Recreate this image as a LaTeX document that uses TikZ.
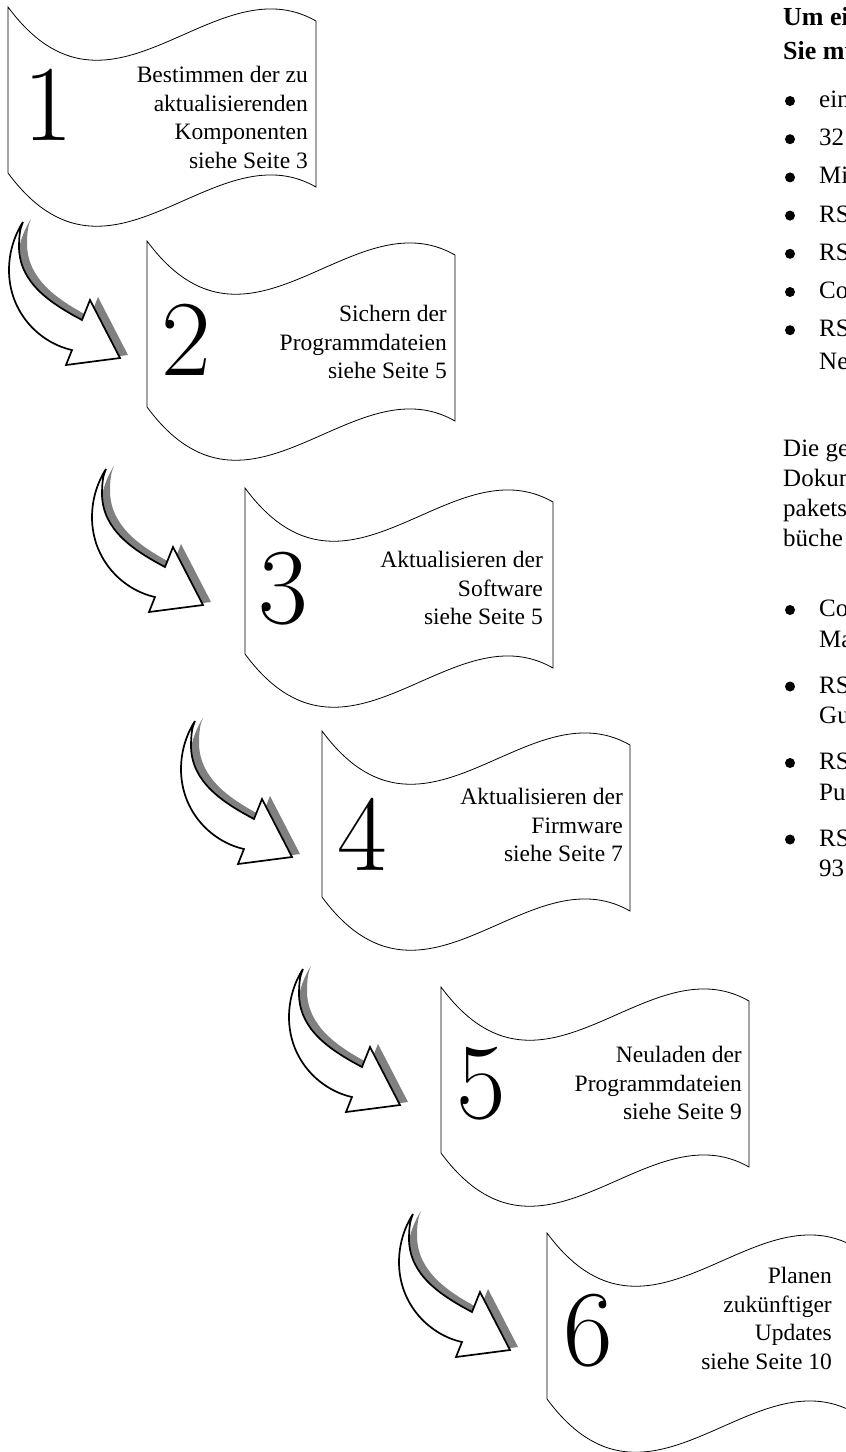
\documentclass[tikz,border=0pt]{standalone}
\usepackage{fontspec}
\newfontfamily\timesf{Liberation Serif}
\tikzset{
  bannerline/.style={draw=black, line width=0.8pt, fill=white},
  bignum/.style={font=\fontsize{108}{110}\selectfont, inner sep=0pt},
  bantext/.style={font=\timesf\fontsize{23.5}{28.7}\selectfont, align=right, inner sep=0pt, anchor=north east},
  coltext/.style={font=\timesf\fontsize{25}{30}\selectfont, inner sep=0pt, anchor=base west},
  colhead/.style={font=\timesf\bfseries\fontsize{26}{30}\selectfont, inner sep=0pt, anchor=base west},
  dot/.style={circle, fill=black, inner sep=0pt, minimum size=10pt},
  banner/.pic={
    \path[bannerline] (0,0) .. controls (103,139) and (205,-45) .. (308,14)
      -- (308,180) .. controls (205,121) and (103,305) .. (0,166) -- cycle;
  },
  bigarrow/.pic={
    \fill[black!50] [shift={(8,-3)}]
      (-97,-136) .. controls (-106,-122) and (-111,-105) .. (-111,-88)
      .. controls (-111,-45) and (-80,-15) .. (-48,-8) -- (-54,7) -- (0,0)
      -- (-30,-58) -- (-38,-38) .. controls (-70,-55) and (-100,-75) .. (-101,-110)
      .. controls (-101,-122) and (-100,-130) .. (-97,-136) -- cycle;
    \path[draw=black, fill=white, line width=1.7pt, line join=miter]
      (-97,-136) .. controls (-106,-122) and (-111,-105) .. (-111,-88)
      .. controls (-111,-45) and (-80,-15) .. (-48,-8) -- (-54,7) -- (0,0)
      -- (-30,-58) -- (-38,-38) .. controls (-70,-55) and (-100,-75) .. (-101,-110)
      .. controls (-101,-122) and (-100,-130) .. (-97,-136) -- cycle;
  }
}
\begin{document}
\begin{tikzpicture}[x=1pt, y=-1pt]
\clip (0,0) rectangle (846,1452);
\fill[white] (0,0) rectangle (846,1452);

% banners
\pic at (8,7) {banner};
\node[bignum] (n1) at (48,105) {1};
\node[bantext] (t1) at (308,66) {Bestimmen der zu\\aktualisierenden\\Komponenten\\siehe Seite 3};

\pic at (147,241) {banner};
\node[bignum] (n2) at (186,340) {2};
\node[bantext] (t2) at (447,305) {Sichern der\\Programmdateien\\siehe Seite 5};

\pic at (245,488) {banner};
\node[bignum] (n3) at (283,589) {3};
\node[bantext] (t3) at (543,551) {Aktualisieren der\\Software\\siehe Seite 5};

\pic at (322,731) {banner};
\node[bignum] (n4) at (362,834) {4};
\node[bantext] (t4) at (623,788) {Aktualisieren der\\Firmware\\siehe Seite 7};

\pic at (441,987) {banner};
\node[bignum] (n5) at (481,1084) {5};
\node[bantext] (t5) at (742,1046) {Neuladen der\\Programmdateien\\siehe Seite 9};

\pic at (547,1233) {banner};
\node[bignum] (n6) at (588,1331) {6};
\node[bantext] (t6) at (832,1267) {Planen\\zukünftiger\\Updates\\siehe Seite 10};

% arrows
\pic at (120,358) {bigarrow};
\pic at (203,605) {bigarrow};
\pic at (292,857) {bigarrow};
\pic at (400,1105) {bigarrow};
\pic at (510,1350) {bigarrow};

% right column (cut off by the page edge)
\node[colhead] (h1) at (783,25) {Um ei};
\node[colhead] (h2) at (783,59) {Sie mu};
\foreach \yy/\tt [count=\i] in {101/ein,139.2/32,177.4/Mi,215.6/RS,253.8/RS,292/Co,330.2/RS}{
  \node[dot] (b\i) at (790,\yy) {};
  \node[coltext] (l\i) at (819,\yy+6.5) {\tt};
}
\node[coltext] (l8) at (819,369) {Ne};
\node[coltext] (p1) at (783,456) {Die ge};
\node[coltext] (p2) at (783,486) {Dokum};
\node[coltext] (p3) at (783,516) {pakets};
\node[coltext] (p4) at (783,546) {büche};
\foreach \yy/\ta/\tb [count=\i] in {610/Co/Ma,686.5/RS/Gu,763/RS/Pu,839.5/RS/93}{
  \node[dot] (c\i) at (790,\yy) {};
  \node[coltext] (ca\i) at (819,\yy+6.5) {\ta};
  \node[coltext] (cb\i) at (819,\yy+37) {\tb};
}
\end{tikzpicture}
\end{document}
